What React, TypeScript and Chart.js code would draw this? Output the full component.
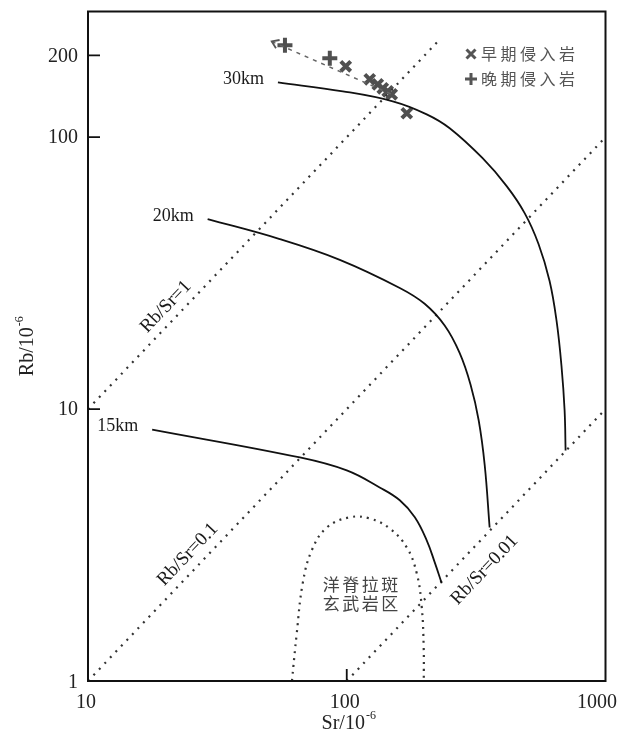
import React, { useEffect, useRef } from "react";
import { Chart, registerables } from "chart.js";

Chart.register(...registerables);

// ---------- data (Sr, Rb in 10^-6) ----------
const X_TICKS = [10, 100, 1000];
const Y_TICKS = [1, 10, 100, 200];

const curve30Sr = [54.2, 96.6, 150.6, 203.7, 250, 335, 415, 487, 551, 608, 647, 676, 695, 701];
const curve30Rb = [159, 147.5, 135.5, 121.4, 107.9, 83.7, 66.1, 52.6, 40.5, 29.6, 21.1, 14.4, 9.87, 7.04];

const curve20Sr = [29, 55.1, 94, 160.3, 200, 239, 273, 301, 323.6, 341.4, 356.6];
const curve20Rb = [50, 42.2, 35.4, 27.9, 24.4, 20.3, 16.1, 12.3, 9.08, 6.21, 3.67];

const curve15Sr = [17.7, 65.9, 100, 134, 160.3, 183.3, 203.7, 218.8, 232.7];
const curve15Rb = [8.41, 6.64, 5.95, 5.15, 4.62, 4.0, 3.29, 2.73, 2.29];

const ratio1Sr = [10, 228];
const ratio1Rb = [10, 228];
const ratio01Sr = [10, 1000];
const ratio01Rb = [1, 100];
const ratio001Sr = [100, 1000];
const ratio001Rb = [1, 10];

const morbSr = [61.4, 64.1, 67.6, 73.3, 83.8, 102.8, 122.7, 146.5, 170.6, 186.4, 194.9, 198.3, 198.5];
const morbRb = [1, 1.5, 2.29, 3.03, 3.67, 4.0, 3.96, 3.64, 3.1, 2.49, 1.87, 1.33, 1];

const earlySr = [99.1, 122.7, 131.8, 137.8, 144, 149.2, 170.6];
const earlyRb = [182.3, 163.3, 156.4, 151.3, 147.5, 143.8, 122.5];
const lateSr = [57.7, 86];
const lateRb = [217.7, 195];

const trendSr = [51.3, 149.2];
const trendRb = [225, 143.8];

const curveLabels = ["30km", "20km", "15km"];
const ratioLabels = ["Rb/Sr=1", "Rb/Sr=0.1", "Rb/Sr=0.01"];
const ratioLabelSr = [20.0, 24.3, 341];
const ratioLabelRb = [23.8, 2.92, 2.56];
const morbLabel = ["洋脊拉斑", "玄武岩区"];
const morbLabelSr = 113;
const morbLabelRb = [2.27, 1.92];
const legendLabels = ["早期侵入岩", "晚期侵入岩"];

const pts = (xs: number[], ys: number[]) => xs.map((x, i) => ({ x, y: ys[i] }));

const SERIF = '"Liberation Serif", "Times New Roman", serif';
const CJK = '"Noto Sans CJK SC", sans-serif';

function spacedText(ctx: CanvasRenderingContext2D, text: string, x: number, y: number, step: number) {
  const chars = Array.from(text);
  chars.forEach((c, i) => ctx.fillText(c, x + i * step, y));
}

const annotPlugin = {
  id: "annot",
  afterDraw(chart: any) {
    const { ctx, chartArea: a, scales } = chart;
    const xs = scales.x;
    const ys = scales.y;
    const X = (v: number) => xs.getPixelForValue(v);
    const Y = (v: number) => ys.getPixelForValue(v);
    ctx.save();

    // frame
    ctx.strokeStyle = "#111";
    ctx.lineWidth = 2;
    ctx.strokeRect(a.left, a.top, a.right - a.left, a.bottom - a.top);

    // inner ticks
    ctx.lineWidth = 1.8;
    ctx.beginPath();
    Y_TICKS.forEach((v) => {
      if (v > ys.min && v < ys.max) {
        const p = Y(v);
        ctx.moveTo(a.left, p);
        ctx.lineTo(a.left + 12, p);
      }
    });
    X_TICKS.forEach((v) => {
      if (v > xs.min && v < xs.max) {
        const p = X(v);
        ctx.moveTo(p, a.bottom);
        ctx.lineTo(p, a.bottom - 12);
      }
    });
    ctx.stroke();

    // tick labels
    ctx.fillStyle = "#222";
    ctx.font = `20px ${SERIF}`;
    ctx.textAlign = "right";
    ctx.textBaseline = "middle";
    Y_TICKS.forEach((v) => {
      ctx.fillText(String(v), a.left - 10, Y(v) + (v === 1 ? 2 : 1));
    });
    ctx.textAlign = "center";
    ctx.textBaseline = "middle";
    X_TICKS.forEach((v) => {
      const s = String(v);
      const w = ctx.measureText(s).width;
      let cx = X(v) - 2;
      if (cx + w / 2 > chart.width) cx = chart.width - w / 2;
      ctx.fillText(s, cx, a.bottom + 22);
    });

    // axis titles
    const drawTitle = (main: string, cx: number, cy: number) => {
      ctx.font = `20px ${SERIF}`;
      const w1 = ctx.measureText(main).width;
      ctx.font = `12px ${SERIF}`;
      const w2 = ctx.measureText("-6").width;
      const start = cx - (w1 + w2 + 1) / 2;
      ctx.textAlign = "left";
      ctx.textBaseline = "alphabetic";
      ctx.font = `20px ${SERIF}`;
      ctx.fillText(main, start, cy + 7);
      ctx.font = `12px ${SERIF}`;
      ctx.fillText("-6", start + w1 + 1, cy - 3);
    };
    drawTitle("Sr/10", (a.left + a.right) / 2 + 2, 722);
    ctx.save();
    ctx.translate(26, (a.top + a.bottom) / 2);
    ctx.rotate(-Math.PI / 2);
    drawTitle("Rb/10", 0, 0);
    ctx.restore();

    // curve labels
    ctx.font = `18px ${SERIF}`;
    ctx.fillStyle = "#1a1a1a";
    ctx.textAlign = "right";
    ctx.textBaseline = "middle";
    const starts = [
      [curve30Sr[0], curve30Rb[0]],
      [curve20Sr[0], curve20Rb[0]],
      [curve15Sr[0], curve15Rb[0]],
    ];
    starts.forEach(([sx, sy], i) => {
      ctx.fillText(curveLabels[i], X(sx) - 14, Y(sy) - 3);
    });

    // ratio labels (rotated along lines)
    const ang = Math.atan2(Y(100) - Y(10), X(100) - X(10));
    ctx.font = `19px ${SERIF}`;
    ctx.textAlign = "center";
    ctx.textBaseline = "middle";
    ratioLabels.forEach((t, i) => {
      ctx.save();
      ctx.translate(X(ratioLabelSr[i]), Y(ratioLabelRb[i]));
      ctx.rotate(ang);
      ctx.fillText(t, 0, 0);
      ctx.restore();
    });

    // MORB label
    ctx.font = `17px ${CJK}`;
    ctx.fillStyle = "#444";
    ctx.textAlign = "left";
    morbLabel.forEach((t, i) => {
      const step = 19.5;
      const total = step * (Array.from(t).length - 1);
      spacedText(ctx, t, X(morbLabelSr) - total / 2 - 8.5, Y(morbLabelRb[i]), step);
    });

    // trend arrowhead
    const tx = X(trendSr[0]);
    const ty = Y(trendRb[0]);
    const dir = Math.atan2(Y(trendRb[1]) - ty, X(trendSr[1]) - tx);
    ctx.strokeStyle = "#555";
    ctx.lineWidth = 1.8;
    ctx.beginPath();
    ctx.moveTo(tx + 8 * Math.cos(dir - 0.6), ty + 8 * Math.sin(dir - 0.6));
    ctx.lineTo(tx, ty);
    ctx.lineTo(tx + 8 * Math.cos(dir + 0.6), ty + 8 * Math.sin(dir + 0.6));
    ctx.stroke();

    // legend
    const lx = 471;
    const rows = [54, 79];
    ctx.strokeStyle = "#555";
    ctx.lineWidth = 3;
    ctx.beginPath();
    ctx.moveTo(lx - 4.5, rows[0] - 4.5);
    ctx.lineTo(lx + 4.5, rows[0] + 4.5);
    ctx.moveTo(lx + 4.5, rows[0] - 4.5);
    ctx.lineTo(lx - 4.5, rows[0] + 4.5);
    ctx.moveTo(lx - 6, rows[1]);
    ctx.lineTo(lx + 6, rows[1]);
    ctx.moveTo(lx, rows[1] - 6);
    ctx.lineTo(lx, rows[1] + 6);
    ctx.stroke();
    ctx.font = `16px ${CJK}`;
    ctx.fillStyle = "#555";
    ctx.textAlign = "left";
    ctx.textBaseline = "middle";
    legendLabels.forEach((t, i) => spacedText(ctx, t, lx + 10, rows[i], 19.5));

    ctx.restore();
  },
};

export default function App() {
  const ref = useRef<HTMLCanvasElement>(null);
  useEffect(() => {
    if (!ref.current) return;
    const solid = (xs: number[], ys: number[]) => ({
      data: pts(xs, ys),
      showLine: true,
      borderColor: "#111",
      borderWidth: 1.8,
      pointRadius: 0,
      tension: 0.4,
      fill: false,
    });
    const dotted = (xs: number[], ys: number[]) => ({
      data: pts(xs, ys),
      showLine: true,
      borderColor: "#333",
      borderWidth: 2.2,
      borderDash: [2, 6],
      pointRadius: 0,
      tension: 0,
      fill: false,
    });
    const chart = new Chart(ref.current, {
      type: "scatter",
      data: {
        datasets: [
          solid(curve30Sr, curve30Rb),
          solid(curve20Sr, curve20Rb),
          solid(curve15Sr, curve15Rb),
          dotted(ratio1Sr, ratio1Rb),
          dotted(ratio01Sr, ratio01Rb),
          dotted(ratio001Sr, ratio001Rb),
          { ...dotted(morbSr, morbRb), tension: 0.4, borderDash: [2, 5] },
          {
            data: pts(trendSr, trendRb),
            showLine: true,
            borderColor: "#666",
            borderWidth: 1.5,
            borderDash: [4, 5],
            pointRadius: 0,
            fill: false,
          },
          {
            data: pts(earlySr, earlyRb),
            showLine: false,
            pointStyle: "crossRot",
            pointRadius: 7,
            pointBorderWidth: 4,
            borderColor: "#505050",
            backgroundColor: "#505050",
          },
          {
            data: pts(lateSr, lateRb),
            showLine: false,
            pointStyle: "cross",
            pointRadius: 7.5,
            pointBorderWidth: 4,
            borderColor: "#505050",
            backgroundColor: "#505050",
          },
        ] as any,
      },
      options: {
        responsive: false,
        animation: false,
        events: [],
        layout: { padding: { top: 11, right: 11, left: 0, bottom: 0 } },
        scales: {
          x: {
            type: "logarithmic",
            min: 10,
            max: 1000,
            ticks: { display: false },
            grid: { display: false },
            border: { display: false },
            afterFit: (s: any) => {
              s.height = 59;
            },
          },
          y: {
            type: "logarithmic",
            min: 1,
            max: 290,
            ticks: { display: false },
            grid: { display: false },
            border: { display: false },
            afterFit: (s: any) => {
              s.width = 88;
            },
          },
        },
        plugins: {
          legend: { display: false },
          tooltip: { enabled: false },
        },
      } as any,
      plugins: [annotPlugin],
    });
    return () => chart.destroy();
  }, []);
  return (
    <div style={{ position: "fixed", left: 0, top: 0, width: 617, height: 740, background: "#fff" }}>
      <canvas ref={ref} width={617} height={740} style={{ display: "block", width: 617, height: 740 }} />
    </div>
  );
}
